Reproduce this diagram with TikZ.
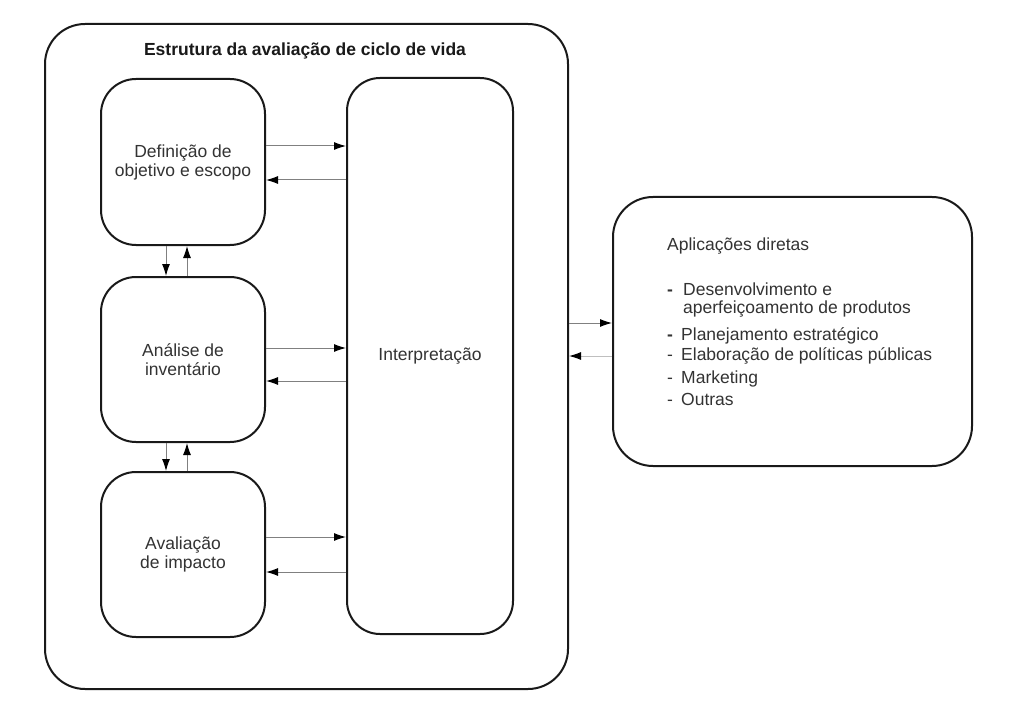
\documentclass[tikz,border=0pt]{standalone}
\usepackage{fontspec}
\setmainfont{Liberation Sans}
\usetikzlibrary{arrows.meta,calc}
\newcommand{\txtfont}{\fontsize{17.5}{19}\selectfont}
\tikzset{
  frame/.style={draw=black!90, line width=2pt, inner sep=0pt},
  stagebox/.style={frame, rounded corners=35pt, minimum width=164pt, minimum height=166pt,
    align=center, font=\txtfont, text=black!80},
  arr/.style={draw=black!50, line width=1pt, -{Latex[length=12pt,width=8pt,color=black]}}
}
\begin{document}
\begin{tikzpicture}[x=1pt,y=-1pt]
\useasboundingbox[fill=white] (0,0) rectangle (1016,711);
% outer frame
\node[frame, rounded corners=40pt, minimum width=523pt, minimum height=665pt] (outer) at (306.5,356.5) {};
\node[font=\txtfont\bfseries, text=black!90] (title) at (305,51) {Estrutura da avaliação de ciclo de vida};
% stages
\node[stagebox] (b1) at (183,162) {Definição de\\objetivo e escopo};
\node[stagebox, minimum height=165pt] (b2) at (183,359.5) {Análise de\\inventário};
\node[stagebox, minimum height=165pt] (b3) at (183,554.5) {Avaliação\\de impacto};
\node[frame, rounded corners=33pt, minimum width=166pt, minimum height=556pt, font=\txtfont, text=black!80] (interp) at (430,356) {Interpretação};
% right box
\node[frame, rounded corners=40pt, minimum width=359pt, minimum height=269pt] (apps) at (792.5,331.5) {};
\node[anchor=north west, align=left, font=\txtfont, text=black!80, inner sep=0pt] (appstext) at (667,238)
  {Aplicações diretas\\[26pt]
   \makebox[16pt][l]{\textbf{-}}Desenvolvimento e\\[-1pt]
   \makebox[16pt][l]{}aperfeiçoamento de produtos\\[8pt]
   \makebox[14pt][l]{\textbf{-}}Planejamento estratégico\\[1pt]
   \makebox[14pt][l]{-}Elaboração de políticas públicas\\[4pt]
   \makebox[14pt][l]{-}Marketing\\[3pt]
   \makebox[14pt][l]{-}Outras};
% anchor points for connectors
\coordinate (b1r) at ($(b1.east)+(0,-16)$);
\coordinate (b1l) at ($(b1.east)+(0,18)$);
\coordinate (b2r) at ($(b2.east)+(0,-11.5)$);
\coordinate (b2l) at ($(b2.east)+(0,21.5)$);
\coordinate (b3r) at ($(b3.east)+(0,-17.5)$);
\coordinate (b3l) at ($(b3.east)+(0,17.5)$);
\coordinate (d12) at ($(b1.south)+(-17,0)$);
\coordinate (u12) at ($(b1.south)+(4,0)$);
\coordinate (d23) at ($(b2.south)+(-17,0)$);
\coordinate (u23) at ($(b2.south)+(4,0)$);
\coordinate (ar) at ($(apps.west)+(0,-8.5)$);
\coordinate (al) at ($(apps.west)+(0,24.5)$);
% horizontal arrows stage <-> interpretation
\draw[arr] (b1r) -- (b1r -| interp.west);
\draw[arr] (b1l -| interp.west) -- (b1l);
\draw[arr] (b2r) -- (b2r -| interp.west);
\draw[arr] (b2l -| interp.west) -- (b2l);
\draw[arr] (b3r) -- (b3r -| interp.west);
\draw[arr] (b3l -| interp.west) -- (b3l);
% vertical arrows between stages
\draw[arr] (d12) -- (d12 |- b2.north);
\draw[arr] (u12 |- b2.north) -- (u12);
\draw[arr] (d23) -- (d23 |- b3.north);
\draw[arr] (u23 |- b3.north) -- (u23);
% arrows outer <-> applications
\draw[arr] (ar -| outer.east) -- (ar);
\draw[arr, draw=black!25] (al) -- (al -| outer.east);
\end{tikzpicture}
\end{document}
